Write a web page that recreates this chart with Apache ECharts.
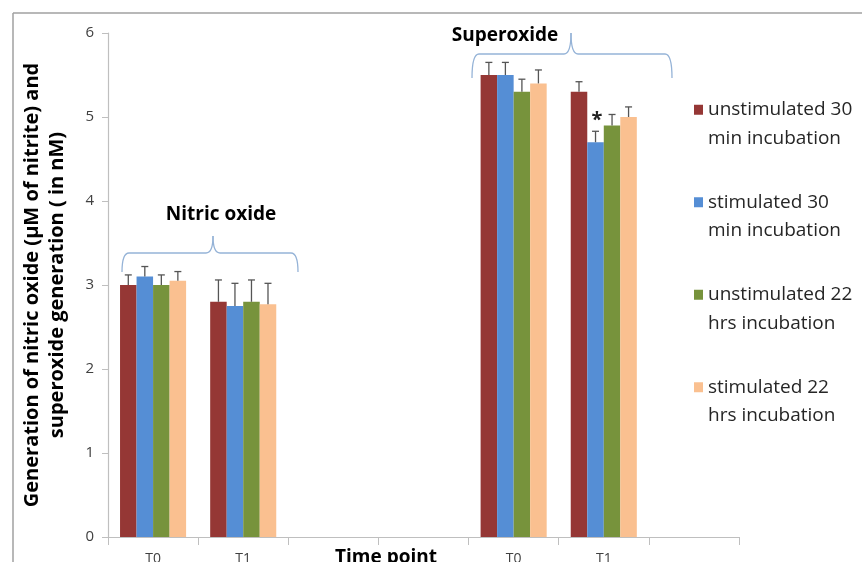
<!DOCTYPE html>
<html>
<head>
<meta charset="utf-8">
<script src="https://cdn.jsdelivr.net/npm/echarts@6/dist/echarts.min.js"></script>
<style>
html,body{margin:0;padding:0;background:#fff;}
#chart{width:862px;height:562px;}
</style>
</head>
<body>
<div id="chart"></div>
<script>
// ---- data ----
var categories = ['NO-T0', 'NO-T1', 'gap1', 'gap2', 'SO-T0', 'SO-T1', 'gap3'];
var tickLabels = ['T0', 'T1', '', '', 'T0', 'T1', ''];
var yTicks = [0, 1, 2, 3, 4, 5, 6];
var seriesNames = [
  'unstimulated 30\nmin incubation',
  'stimulated 30\nmin incubation',
  'unstimulated 22\nhrs incubation',
  'stimulated 22\nhrs incubation'
];
var unstim30 = [3.00, 2.80, null, null, 5.50, 5.30, null];
var stim30   = [3.10, 2.75, null, null, 5.50, 4.70, null];
var unstim22 = [3.00, 2.80, null, null, 5.30, 4.90, null];
var stim22   = [3.05, 2.77, null, null, 5.40, 5.00, null];
var unstim30Err = [0.12, 0.26, null, null, 0.15, 0.12, null];
var stim30Err   = [0.12, 0.27, null, null, 0.15, 0.13, null];
var unstim22Err = [0.12, 0.26, null, null, 0.15, 0.13, null];
var stim22Err   = [0.11, 0.25, null, null, 0.16, 0.12, null];
var stim30Marks = ['', '', '', '', '', '*', ''];
var groupLabels = ['Nitric oxide', 'Superoxide'];
var xAxisTitle = 'Time point';
var yAxisTitle = 'Generation of nitric oxide (µM of nitrite) and\nsuperoxide generation ( in nM)';

// ---- build ----
var colors = ['#953735', '#558ed5', '#77933c', '#fac090'];
var values = [unstim30, stim30, unstim22, stim22];
var errs = [unstim30Err, stim30Err, unstim22Err, stim22Err];
var marks = [null, stim30Marks, null, null];
var GAP = 0.267;
var FONT = '"Open Sans", Lato, sans-serif';

var series = [];
values.forEach(function (vals, k) {
  series.push({
    name: seriesNames[k],
    type: 'bar',
    data: vals,
    barGap: '0%',
    barCategoryGap: (GAP * 100) + '%',
    itemStyle: { color: colors[k] },
    z: 2
  });
});
values.forEach(function (vals, k) {
  var d = [];
  vals.forEach(function (v, i) {
    if (v != null) d.push([i, v, errs[k][i], marks[k] ? marks[k][i] : '']);
  });
  series.push({
    type: 'custom',
    name: 'err' + k,
    z: 5,
    silent: true,
    data: d,
    renderItem: function (params, api) {
      var i = api.value(0), v = api.value(1), e = api.value(2);
      var mk = d[params.dataIndex][3];
      var catW = api.size([1, 0])[0];
      var bw = catW * (1 - GAP) / 4;
      var base = api.coord([i, v]);
      var top = api.coord([i, v + e]);
      var x = base[0] + (k - 1.5) * bw;
      var children = [
        { type: 'line', shape: { x1: x, y1: base[1], x2: x, y2: top[1] }, style: { stroke: '#555', lineWidth: 1.3 } },
        { type: 'line', shape: { x1: x - 3.5, y1: top[1], x2: x + 3.5, y2: top[1] }, style: { stroke: '#555', lineWidth: 1.3 } }
      ];
      if (mk) {
        children.push({ type: 'text', style: { text: mk, x: x + 1.5, y: top[1] - 1, align: 'center', verticalAlign: 'bottom', fontSize: 20, fontWeight: 'bold', fontFamily: FONT, fill: '#222' } });
      }
      return { type: 'group', children: children };
    }
  });
});

function brace(x1, x2, xm, yEnd, yLine, yPeak) {
  var r = 7;
  var st = { stroke: '#95b3d7', lineWidth: 1.3, fill: null };
  return [
    { type: 'bezierCurve', shape: { x1: x1, y1: yEnd, cpx1: x1, cpy1: yLine, x2: x1 + r, y2: yLine }, style: st },
    { type: 'line', shape: { x1: x1 + r, y1: yLine, x2: xm - r, y2: yLine }, style: st },
    { type: 'bezierCurve', shape: { x1: xm - r, y1: yLine, cpx1: xm, cpy1: yLine, x2: xm, y2: yPeak }, style: st },
    { type: 'bezierCurve', shape: { x1: xm, y1: yPeak, cpx1: xm, cpy1: yLine, x2: xm + r, y2: yLine }, style: st },
    { type: 'line', shape: { x1: xm + r, y1: yLine, x2: x2 - r, y2: yLine }, style: st },
    { type: 'bezierCurve', shape: { x1: x2 - r, y1: yLine, cpx1: x2, cpy1: yLine, x2: x2, y2: yEnd }, style: st }
  ];
}

var graphics = [
  { type: 'line', shape: { x1: 13, y1: 13, x2: 862, y2: 13 }, style: { stroke: '#a0a0a0', lineWidth: 1.5 } },
  { type: 'line', shape: { x1: 13, y1: 13, x2: 13, y2: 562 }, style: { stroke: '#a0a0a0', lineWidth: 1.5 } },
  { type: 'text', x: 221, y: 215, style: { text: groupLabels[0], fontSize: 19, fontWeight: 'bold', fontFamily: FONT, fill: '#000', align: 'center', verticalAlign: 'middle' } },
  { type: 'text', x: 505, y: 36, style: { text: groupLabels[1], fontSize: 19, fontWeight: 'bold', fontFamily: FONT, fill: '#000', align: 'center', verticalAlign: 'middle' } },
  { type: 'text', x: 386, y: 558, style: { text: xAxisTitle, fontSize: 19, fontWeight: 'bold', fontFamily: FONT, fill: '#000', align: 'center', verticalAlign: 'middle' } }
].concat(brace(122, 298, 213, 272, 253, 236)).concat(brace(472, 672, 571, 78, 54, 33));

var chart = echarts.init(document.getElementById('chart'));
chart.setOption({
  animation: false,
  backgroundColor: '#fff',
  grid: { left: 108, right: 123, top: 33, bottom: 25, containLabel: false, outerBoundsMode: 'none' },
  legend: {
    orient: 'vertical',
    left: 689,
    top: 62,
    itemWidth: 9,
    itemHeight: 10,
    itemGap: 7,
    icon: 'rect',
    data: seriesNames,
    formatter: function (name) { return '\n' + name; },
    textStyle: { fontFamily: FONT, fontSize: 19, color: '#262626', lineHeight: 28.5 }
  },
  xAxis: {
    type: 'category',
    data: categories,
    boundaryGap: true,
    axisLine: { lineStyle: { color: '#bfbfbf', width: 1.2 } },
    axisTick: { show: true, length: 8, lineStyle: { color: '#bfbfbf' } },
    axisLabel: { margin: 15, fontFamily: FONT, fontSize: 14, color: '#404040', interval: 0, formatter: function (v, i) { return tickLabels[i]; } }
  },
  yAxis: {
    type: 'value',
    min: yTicks[0],
    max: yTicks[yTicks.length - 1],
    interval: 1,
    name: yAxisTitle,
    nameLocation: 'middle',
    nameRotate: 90,
    nameGap: 38,
    nameTextStyle: { fontFamily: FONT, fontSize: 20, fontWeight: 'bold', color: '#000', lineHeight: 25 },
    axisLine: { show: true, lineStyle: { color: '#bfbfbf', width: 1.2 } },
    axisTick: { show: true, length: 6, lineStyle: { color: '#bfbfbf' } },
    splitLine: { show: false },
    axisLabel: { margin: 14, fontFamily: FONT, fontSize: 15, color: '#404040' }
  },
  graphic: graphics,
  series: series
});
</script>
</body>
</html>
